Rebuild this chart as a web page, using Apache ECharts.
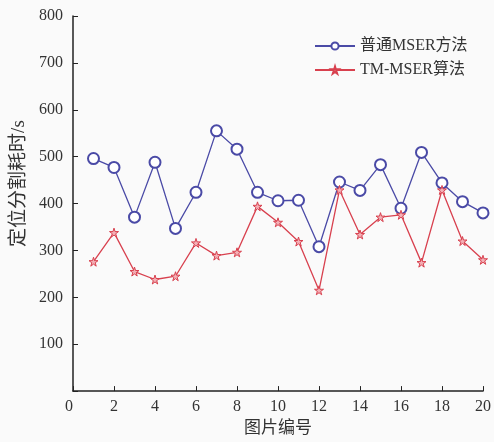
<!DOCTYPE html>
<html><head><meta charset="utf-8">
<script src="https://cdn.jsdelivr.net/npm/echarts@6/dist/echarts.min.js"></script>
<style>html,body{margin:0;padding:0;background:#fafafa}#c{width:494px;height:442px}</style>
</head><body><div id="c"></div>
<script>
const xValues = [1,2,3,4,5,6,7,8,9,10,11,12,13,14,15,16,17,18,19,20];
const seriesNames = ['普通MSER方法', 'TM-MSER算法'];
const mserValues = [496,477,371,488,347,424,555,516,424,406,407,308,446,428,483,390,509,444,404,380];
const tmMserValues = [276,338,255,238,245,316,289,296,394,360,319,215,429,334,371,376,274,429,320,280];
const xAxisName = '图片编号';
const yAxisName = '定位分割耗时/s';

const FONT = '"Liberation Serif", "Noto Sans CJK SC", serif';
const blue = '#4a4aa6';
const red = '#d8404e';
const STAR = 'path://M50,0 L61,35 L98,35 L68,57 L79,91 L50,70 L21,91 L32,57 L2,35 L39,35 Z';
const chart = echarts.init(document.getElementById('c'), null, {renderer: 'canvas'});
chart.setOption({
  backgroundColor: '#fafafa',
  animation: false,
  grid: {left: 73, right: 11, top: 16, bottom: 49, containLabel: false},
  legend: {
    orient: 'vertical', left: 309, top: 33, itemGap: 8, itemWidth: 40, itemHeight: 9,
    textStyle: {fontFamily: FONT, fontSize: 16, color: '#333'},
    data: seriesNames
  },
  xAxis: {
    type: 'value', min: 0, max: 20, interval: 2,
    name: xAxisName, nameLocation: 'middle', nameGap: 28,
    nameTextStyle: {fontFamily: FONT, fontSize: 17, color: '#333'},
    axisLine: {show: true, onZero: false, lineStyle: {color: '#222', width: 1.5}},
    axisTick: {show: true, inside: true, length: 5, lineStyle: {color: '#222'}},
    axisLabel: {fontFamily: FONT, fontSize: 16, color: '#333', margin: 8, alignMinLabel: 'right'},
    splitLine: {show: false}
  },
  yAxis: {
    type: 'value', min: 0, max: 800, interval: 100,
    name: yAxisName, nameLocation: 'middle', nameGap: 44,
    nameTextStyle: {fontFamily: FONT, fontSize: 19, color: '#333', padding: [0, 0, 0, 40]},
    axisLine: {show: true, lineStyle: {color: '#222', width: 1.5}},
    axisTick: {show: true, inside: true, length: 5, lineStyle: {color: '#222'}},
    axisLabel: {fontFamily: FONT, fontSize: 16, color: '#333', margin: 10,
      formatter: v => v === 0 ? '' : String(v)},
    splitLine: {show: false}
  },
  series: [
    {
      name: seriesNames[0], type: 'line',
      data: xValues.map((x, i) => [x, mserValues[i]]),
      symbol: 'emptyCircle', symbolSize: 11,
      lineStyle: {color: blue, width: 1.3},
      itemStyle: {color: blue, borderColor: blue, borderWidth: 1.2}
    },
    {
      name: seriesNames[1], type: 'line',
      data: xValues.map((x, i) => [x, tmMserValues[i]]),
      symbol: STAR, symbolSize: 9,
      lineStyle: {color: red, width: 1.3},
      itemStyle: {color: '#f3b0b6', borderColor: red, borderWidth: 1}
    }
  ]
});
</script></body></html>
